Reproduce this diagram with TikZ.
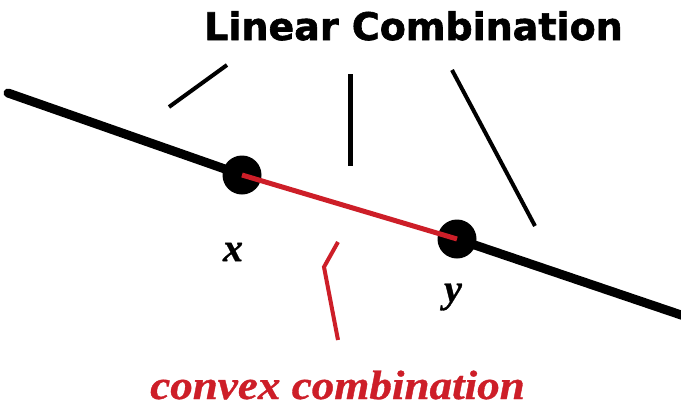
\documentclass[tikz,border=0pt]{standalone}
\usepackage{fontspec}
\newfontfamily\headfont[BoldFeatures={FakeBold=1.6}]{DejaVu Sans}
\newfontfamily\serifbi[BoldItalicFeatures={FakeBold=0.8}]{Liberation Serif}
\definecolor{cred}{RGB}{205,30,40}
\begin{document}
\begin{tikzpicture}[x=1pt,y=-1pt,
  mainline/.style={line width=9pt,black,line cap=round},
  leader/.style={line width=4pt,black},
  redseg/.style={line width=5pt,cred},
  dot/.style={circle,fill=black,minimum width=39pt,minimum height=37pt,inner sep=0pt}]
\useasboundingbox (0,0) rectangle (681,410);
% points
\node[dot] (x) at (242,175) {};
\node[dot] (y) at (457,239) {};
\coordinate (lstart) at (8,93);
\coordinate (lend) at (690,318);
% main line
\draw[mainline] (lstart) -- (x.center);
\draw[mainline,line cap=butt] (y.center) -- (lend);
% convex segment
\draw[redseg] (x.center) -- (y.center);
% title
\node[anchor=base west,inner sep=0pt,font=\headfont\bfseries\fontsize{38}{40}\selectfont] (title) at (204,40) {Linear Combination};
% leaders
\coordinate (l1a) at (227,65); \coordinate (l1b) at (169,107);
\coordinate (l2a) at (350,74); \coordinate (l2b) at (350,166);
\coordinate (l3a) at (452,70); \coordinate (l3b) at (535,226);
\draw[leader] (l1a) -- (l1b);
\draw[leader,line width=5pt] (l2a) -- (l2b);
\draw[leader] (l3a) -- (l3b);
% labels
\node[inner sep=0pt,font=\serifbi\bfseries\itshape\fontsize{40}{42}\selectfont] (xl) at (233,252) {x};
\node[inner sep=0pt,font=\serifbi\bfseries\itshape\fontsize{40}{42}\selectfont] (yl) at (453,297) {y};
% convex label
\node[anchor=base west,inner sep=0pt,text=cred,xscale=1.1,font=\serifbi\bfseries\itshape\fontsize{41}{44}\selectfont] (conv) at (150,399) {convex combination};
\coordinate (r1) at (338,242); \coordinate (r2) at (324,267); \coordinate (r3) at (338,340);
\draw[redseg,line width=4pt] (r1) -- (r2) -- (r3);
\end{tikzpicture}
\end{document}
